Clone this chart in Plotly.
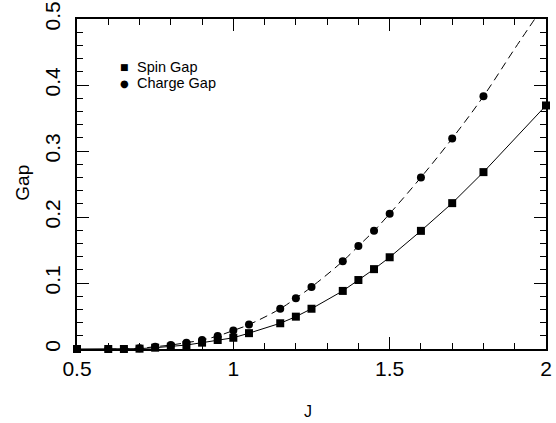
import plotly.graph_objects as go

# Data
J_spin = [0.5, 0.6, 0.65, 0.7, 0.75, 0.8, 0.85, 0.9, 0.95, 1.0, 1.05, 1.15, 1.2,
          1.25, 1.35, 1.4, 1.45, 1.5, 1.6, 1.7, 1.8, 2.0]
spin_gap = [0.0, 0.0, 0.0, 0.0005, 0.002, 0.0035, 0.006, 0.0096, 0.0136, 0.017, 0.024,
            0.039, 0.049, 0.061, 0.088, 0.1045, 0.121, 0.139, 0.179, 0.221, 0.268, 0.369]

J_charge = [0.6, 0.65, 0.7, 0.75, 0.8, 0.85, 0.9, 0.95, 1.0, 1.05, 1.15, 1.2,
            1.25, 1.35, 1.4, 1.45, 1.5, 1.6, 1.7, 1.8]
charge_gap = [0.0, 0.0, 0.001, 0.0035, 0.006, 0.0096, 0.0136, 0.0197, 0.028, 0.037,
              0.061, 0.077, 0.094, 0.133, 0.156, 0.179, 0.205, 0.26, 0.319, 0.383]

# dashed fit curve continues past the last charge point
J_charge_ext = [1.9, 2.0]
charge_ext = [0.455, 0.525]

x_ticks = [0.5, 1.0, 1.5, 2.0]
x_ticktext = ["0.5", "1", "1.5", "2"]
y_ticks = [0, 0.1, 0.2, 0.3, 0.4, 0.5]
y_ticktext = ["0", "0.1", "0.2", "0.3", "0.4", "0.5"]

FONT = "Liberation Sans, Arial, sans-serif"

fig = go.Figure()
fig.add_trace(go.Scatter(x=J_spin, y=spin_gap, mode="lines",
                         line=dict(color="black", width=1), showlegend=False))
fig.add_trace(go.Scatter(x=J_charge + J_charge_ext, y=charge_gap + charge_ext, mode="lines",
                         line=dict(color="black", width=1, dash="8px,5px"),
                         line_shape="spline", showlegend=False))
fig.add_trace(go.Scatter(x=J_spin, y=spin_gap, mode="markers",
                         marker=dict(symbol="square", size=8, color="black"),
                         cliponaxis=False, showlegend=False))
fig.add_trace(go.Scatter(x=J_charge, y=charge_gap, mode="markers",
                         marker=dict(symbol="circle", size=8, color="black"),
                         cliponaxis=False, showlegend=False))

axis_common = dict(showgrid=False, zeroline=False, showline=True, linecolor="black",
                   linewidth=1.5, mirror="ticks", ticks="inside", tickcolor="black",
                   tickwidth=1, ticklen=12, automargin=False,
                   tickfont=dict(family=FONT, size=21, color="black"))

fig.update_xaxes(range=[0.5, 2.0], tickvals=x_ticks, ticktext=x_ticktext,
                 minor=dict(dtick=0.1, tick0=0.5, ticks="inside", ticklen=6,
                            tickcolor="black", tickwidth=1),
                 **axis_common)
fig.update_yaxes(range=[0, 0.5], tickvals=y_ticks, ticktext=y_ticktext, tickangle=-90,
                 ticklabelstandoff=7,
                 minor=dict(dtick=0.02, tick0=0, ticks="inside", ticklen=6,
                            tickcolor="black", tickwidth=1),
                 **axis_common)

annotations = [
    dict(text="J", x=0.4925, y=-0.19, xref="paper", yref="paper", showarrow=False,
         xanchor="center", yanchor="middle",
         font=dict(family=FONT, size=16, color="black")),
    dict(text="Gap", x=-0.118, y=0.503, xref="paper", yref="paper", showarrow=False,
         xanchor="center", yanchor="middle",
         textangle=-90, font=dict(family=FONT, size=19, color="black")),
    dict(text="■", x=0.1023, y=0.8545, xref="paper", yref="paper", showarrow=False,
         xanchor="center", yanchor="middle",
         font=dict(family="DejaVu Sans", size=9, color="black")),
    dict(text="●", x=0.1023, y=0.806, xref="paper", yref="paper", showarrow=False,
         xanchor="center", yanchor="middle",
         font=dict(family="DejaVu Sans", size=10, color="black")),
    dict(text="Spin Gap", x=0.1237, y=0.8545, xref="paper", yref="paper", showarrow=False,
         xanchor="left", yanchor="middle",
         font=dict(family=FONT, size=14.5, color="black")),
    dict(text="Charge Gap", x=0.1237, y=0.806, xref="paper", yref="paper", showarrow=False,
         xanchor="left", yanchor="middle",
         font=dict(family=FONT, size=14.5, color="black")),
]

fig.update_layout(width=556, height=423, margin=dict(l=77, r=10, t=19, b=74),
                  plot_bgcolor="white", paper_bgcolor="white",
                  annotations=annotations, showlegend=False)

fig.write_html("out.html")
